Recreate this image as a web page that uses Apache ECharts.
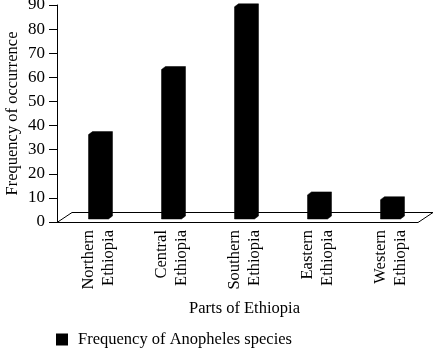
<!DOCTYPE html>
<html>
<head>
<meta charset="utf-8">
<script src="https://cdn.jsdelivr.net/npm/echarts@6/dist/echarts.min.js"></script>
<style>
  html, body { margin: 0; padding: 0; background: #fff; }
  #chart { width: 435px; height: 348px; }
</style>
</head>
<body>
<div id="chart"></div>
<script>
// Données
const categories = ['Northern\nEthiopia', 'Central\nEthiopia', 'Southern\nEthiopia', 'Eastern\nEthiopia', 'Western\nEthiopia'];
const frequency = [35, 62, 88, 10, 8];
const yMin = 0;
const yMax = 90;
const yStep = 10;

const FONT = 'Liberation Serif';

// Barre pseudo 3D : face avant + dessus + côté, tout en noir
function renderBar(params, api) {
  const top = api.coord([api.value(0), api.value(1)]);
  const base = api.coord([api.value(0), 0]);
  const w = 20, dx = 4, dy = 3, lift = 3;
  const x0 = top[0] - w / 2, x1 = top[0] + w / 2;
  const yt = top[1] - lift, yb = base[1] - lift;
  return {
    type: 'polygon',
    shape: { points: [[x0, yb], [x0, yt], [x0 + dx, yt - dy], [x1 + dx, yt - dy], [x1 + dx, yb - dy], [x1, yb]] },
    style: { fill: '#000', stroke: '#000', lineWidth: 0.5 }
  };
}

// Le "sol" du graphique 3D (parallélogramme)
function renderFloor(params, api) {
  const cs = params.coordSys;
  const y = Math.round(api.coord([0, 0])[1]) + 0.5;
  const xl = cs.x - 5, xr = cs.x + cs.width - 9;
  return {
    type: 'polygon',
    shape: { points: [[xl, y], [xr, y], [xr + 15, y - 10], [xl + 15, y - 10]] },
    style: { fill: '#fff', stroke: '#000', lineWidth: 1 }
  };
}

const chart = echarts.init(document.getElementById('chart'));

chart.setOption({
  animation: false,
  grid: { left: 62, right: 8, top: 5, bottom: 126, outerBoundsMode: 'none' },
  legend: {
    data: ['Frequency of Anopheles species'],
    left: 51,
    top: 326,
    icon: 'rect',
    itemWidth: 12,
    itemHeight: 12,
    textStyle: { fontFamily: FONT, fontSize: 16.5, color: '#000', padding: [0, 0, 0, 5] }
  },
  xAxis: {
    type: 'category',
    data: categories,
    name: 'Parts of Ethiopia',
    nameLocation: 'middle',
    nameGap: 78,
    nameMoveOverlap: false,
    nameTextStyle: { fontFamily: FONT, fontSize: 16.5, color: '#000' },
    axisLine: { show: false },
    axisTick: { show: false },
    axisLabel: {
      interval: 0,
      rotate: 90,
      margin: 8,
      fontFamily: FONT,
      fontSize: 16.5,
      lineHeight: 20,
      color: '#000'
    }
  },
  yAxis: {
    type: 'value',
    min: yMin,
    max: yMax,
    interval: yStep,
    offset: 5,
    name: 'Frequency of occurrence',
    nameLocation: 'middle',
    nameGap: 36,
    nameMoveOverlap: false,
    nameTextStyle: { fontFamily: FONT, fontSize: 16.5, color: '#000' },
    axisLine: { show: true, lineStyle: { color: '#000', width: 1 } },
    axisTick: { show: true, length: 8, lineStyle: { color: '#000' } },
    axisLabel: { margin: 12, fontFamily: FONT, fontSize: 17, color: '#000' },
    splitLine: { show: false }
  },
  series: [
    {
      type: 'custom',
      name: 'floor',
      renderItem: renderFloor,
      data: [[0, 0]],
      z: 1,
      silent: true
    },
    {
      type: 'custom',
      name: 'Frequency of Anopheles species',
      renderItem: renderBar,
      itemStyle: { color: '#000' },
      encode: { x: 0, y: 1 },
      data: categories.map((c, i) => [i, frequency[i]]),
      z: 2
    }
  ]
});
</script>
</body>
</html>
